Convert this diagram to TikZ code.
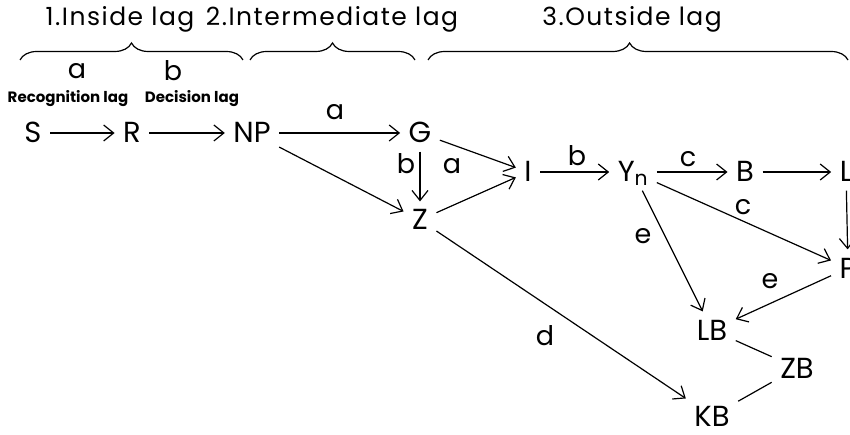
\documentclass[tikz,border=0pt]{standalone}
\usepackage{fontspec}
\setmainfont{Poppins}
\usetikzlibrary{arrows.meta,decorations.pathreplacing}
\begin{document}
\begin{tikzpicture}[x=1pt,y=-1pt,line width=1.2pt,
  v/.style={font=\fontsize{29}{32}\selectfont,inner sep=8pt,text height=20pt,text depth=0pt},
  lbl/.style={font=\fontsize{27}{30}\selectfont,inner sep=0pt},
  ttl/.style={font=\fontsize{25}{28}\selectfont\addfontfeature{LetterSpace=6},inner sep=0pt},
  sml/.style={font=\bfseries\fontsize{15}{17}\selectfont,inner sep=0pt},
  arr/.style={-{Straight Barb[length=10pt,width=16pt]}},
  brc/.style={decorate,decoration={brace,amplitude=17pt}}]
\useasboundingbox (0,0) rectangle (850,435);
% titles and braces
\node[ttl] (t1) at (120,19) {1.Inside lag};
\node[ttl] (t2) at (332,19) {2.Intermediate lag};
\node[ttl] (t3) at (632,19) {3.Outside lag};
\draw[brc] (20,60) -- (243,60);
\draw[brc] (250,60) -- (415,60);
\draw[brc,decoration={aspect=0.48}] (428,60) -- (848,60);
\node[lbl] (la1) at (77,71) {a};
\node[lbl] (lb1) at (173,71) {b};
\node[sml] (rec) at (68,99) {Recognition lag};
\node[sml] (dec) at (192,99) {Decision lag};
% nodes
\node[v] (S) at (33,133) {S};
\node[v] (R) at (132,133) {R};
\node[v] (NP) at (252,133) {NP};
\node[v] (G) at (420,133) {G};
\node[v] (Z) at (420,220) {Z};
\node[v] (I) at (528,172) {I};
\node[v] (Yn) at (633,172) {Y\textsubscript{n}};
\node[v] (B) at (745,172) {B};
\node[v] (L) at (846,172) {L};
\node[v] (P) at (848,268) {P};
\node[v] (LB) at (712,330) {LB};
\node[v] (ZB) at (797,368) {ZB};
\node[v] (KB) at (712,416) {KB};
% connectors
\draw[arr] (S) -- (R);
\draw[arr] (R) -- (NP);
\draw[arr] (NP) -- (G);
\draw[arr] (NP) -- (Z);
\draw[arr] (G) -- (Z);
\draw[arr] (G) -- (I);
\draw[arr] (Z) -- (I);
\draw[arr] (I) -- (Yn);
\draw[arr] (Yn) -- (B);
\draw[arr] (B) -- (L);
\draw[arr] (L) -- (P);
\draw[arr] (Yn) -- (P);
\draw[arr] (Yn) -- (LB);
\draw[arr] (P) -- (LB);
\draw[arr] (Z) -- (KB);
\draw (LB) -- (ZB);
\draw (ZB) -- (KB);
% edge labels
\node[lbl] (ea1) at (335,112) {a};
\node[lbl] (eb1) at (406,164) {b};
\node[lbl] (ea2) at (452,166) {a};
\node[lbl] (eb2) at (577,156) {b};
\node[lbl] (ec1) at (688,159) {c};
\node[lbl] (ec2) at (743,207) {c};
\node[lbl] (ee1) at (643,236) {e};
\node[lbl] (ee2) at (770,281) {e};
\node[lbl] (ed) at (545,336) {d};
\end{tikzpicture}
\end{document}
